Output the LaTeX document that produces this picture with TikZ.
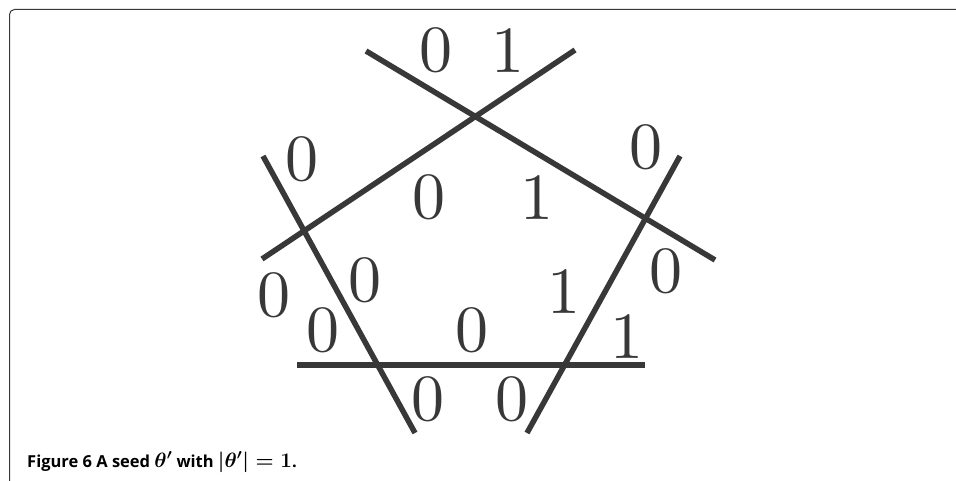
\documentclass[tikz,border=0pt]{standalone}
\usepackage{fontspec}
\newfontfamily\capfont{Open Sans}
\newfontfamily\digfont{lmroman10-regular.otf}
\definecolor{ink}{HTML}{383838}
\newcommand{\capmath}[1]{{\fontsize{20}{24}\selectfont\boldmath$#1$}}
\begin{document}
\begin{tikzpicture}[x=1pt,y=-1pt,
  seg/.style={line width=5.5pt, draw=ink},
  dig/.style={text=ink, font=\digfont\fontsize{66}{66}\selectfont, inner sep=0pt, anchor=center},
  framestyle/.style={line width=1pt, draw=ink, rounded corners=5pt}]
\useasboundingbox (0,0) rectangle (956,481);
\draw[framestyle] (9.5,481) -- (9.5,9.5) -- (956,9.5);
% pentagon lines
\coordinate (a1) at (366,51);  \coordinate (a2) at (715,260);
\coordinate (b1) at (575,50);  \coordinate (b2) at (262,259);
\coordinate (c1) at (263,156); \coordinate (c2) at (415,433);
\coordinate (d1) at (680,156); \coordinate (d2) at (527,433);
\coordinate (e1) at (297,365); \coordinate (e2) at (645,365);
\draw[seg] (a1) -- (a2);
\draw[seg] (b1) -- (b2);
\draw[seg] (c1) -- (c2);
\draw[seg] (d1) -- (d2);
\draw[seg] (e1) -- (e2);
% labels
\node[dig] (l1) at (436,50) {0};
\node[dig] (l2) at (508,51) {1};
\node[dig] (l3) at (302,159) {0};
\node[dig] (l4) at (429,197) {0};
\node[dig] (l5) at (537,198) {1};
\node[dig] (l6) at (646,147) {0};
\node[dig] (l7) at (666,271) {0};
\node[dig] (l8) at (274,295) {0};
\node[dig] (l9) at (365,280) {0};
\node[dig] (l10) at (323,330) {0};
\node[dig] (l11) at (564,292) {1};
\node[dig] (l12) at (472,330) {0};
\node[dig] (l13) at (627,337) {1};
\node[dig] (l14) at (428,399) {0};
\node[dig] (l15) at (512,399) {0};
% caption
\node[anchor=base west, inner sep=0pt, text=black, font=\capfont\bfseries\fontsize{16.5}{20}\selectfont] (cap) at (27,467) {Figure 6 A seed \capmath{\theta'} with \capmath{|\theta'| = 1}.};
\end{tikzpicture}
\end{document}
